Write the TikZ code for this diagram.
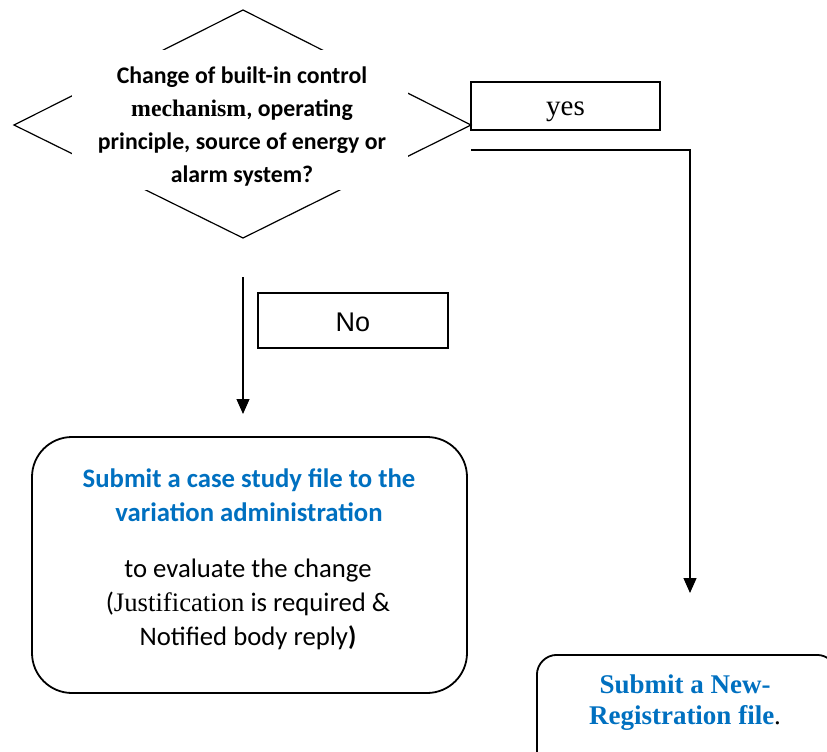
\documentclass[tikz,border=0pt]{standalone}
\usepackage{fontspec}
\setmainfont{Liberation Serif}
\newfontfamily\calfont{Carlito}
\newfontfamily\arifont{Liberation Sans}
\newfontfamily\tmsfont{Liberation Serif}
\usetikzlibrary{arrows.meta}
\definecolor{wblue}{HTML}{0070C0}
\begin{document}
\begin{tikzpicture}[x=1pt,y=-1pt,
  line/.style={line width=1.2pt},
  arr/.style={line width=1.2pt,-{Triangle[length=15pt,width=13pt]}},
  lbox/.style={draw,line width=1.6pt,inner sep=0pt},
  rbox/.style={draw,line width=1.8pt,rounded corners=40pt,inner sep=0pt}]
\useasboundingbox (0,0) rectangle (827,752);
% diamond
\coordinate (dt) at (243,10);
\coordinate (dl) at (14,125);
\coordinate (dr) at (471,125);
\coordinate (db) at (243,238);
\draw[line] (dt) -- (dr) -- (db) -- (dl) -- cycle;
\fill[white] (72,50) rectangle (408,190);
\node[align=center,font={\calfont\bfseries\fontsize{23.8}{33}\selectfont}] (q) at (242,127)
  {Change of built-in control\\{\tmsfont\bfseries mechanism}, operating\\principle, source of energy or\\alarm system?};
% yes box
\node[lbox,minimum width=189pt,minimum height=48pt,text height=18pt,text depth=0pt,font={\tmsfont\fontsize{29}{30}\selectfont}] (yes) at (565.5,106) {yes};
% No box
\node[lbox,minimum width=190pt,minimum height=55pt,text height=22pt,text depth=0pt,font={\arifont\fontsize{27}{30}\selectfont}] (no) at (353,320.5) {No};
% left rounded box
\node[rbox,minimum width=435pt,minimum height=256pt] (cs) at (249.5,565) {};
\node[align=center,text=wblue,font={\calfont\bfseries\fontsize{26.7}{34}\selectfont}] (cst) at (249,495)
  {Submit a case study file to the\\variation administration};
\node[align=center,font={\calfont\fontsize{26.7}{34}\selectfont}] (csb) at (248,604)
  {to evaluate the change\\({\tmsfont Justification} is required \&\\Notified body reply{\bfseries)}};
% right rounded box
\node[rbox,rounded corners=20pt,minimum width=300pt,minimum height=130pt,anchor=north west] (nr) at (536,654) {};
\node[align=center,font={\tmsfont\bfseries\fontsize{27}{31}\selectfont}] (nrt) at (685,703)
  {\textcolor{wblue}{Submit a New-}\\\textcolor{wblue}{Registration file}{\mdseries.}};
% connectors
\coordinate (ys) at (471,150);
\coordinate (ye) at (690,593);
\draw[arr] (ys) -| (ye);
\coordinate (ns) at (243,277);
\coordinate (ne) at (243,414);
\draw[arr] (ns) -- (ne);
\end{tikzpicture}
\end{document}
